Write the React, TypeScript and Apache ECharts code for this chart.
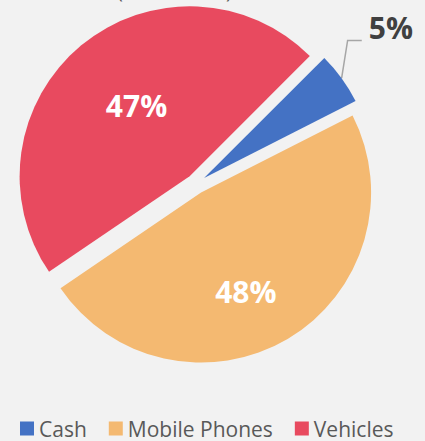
import React, { useEffect, useRef } from "react";
import * as echarts from "echarts";

const categories = ["Cash", "Mobile Phones", "Vehicles"];
const values = [5, 48, 47];
const colors = ["#4472C4", "#F4B971", "#E84A5F"];
const titleText = "(Total Value)";

export default function App() {
  const ref = useRef<HTMLDivElement>(null);
  useEffect(() => {
    document.body.style.margin = "0";
    const chart = echarts.init(ref.current!, null, { renderer: "svg" });
    const insideLabel = {
      show: true,
      position: "inside",
      color: "#FFFFFF",
      fontSize: 30,
      fontWeight: "bold",
      fontFamily: "Open Sans",
    };
    chart.setOption({
      animation: false,
      backgroundColor: "#F2F2F2",
      title: {
        text: titleText,
        left: 112,
        top: -25,
        textStyle: { color: "#595959", fontSize: 20, fontWeight: "normal", fontFamily: "Open Sans" },
      },
      legend: {
        data: categories,
        left: 15,
        top: 413,
        itemWidth: 14,
        itemHeight: 14,
        itemGap: 22,
        icon: "rect",
        selectedMode: false,
        textStyle: { color: "#595959", fontSize: 21, fontFamily: "Open Sans" },
      },
      series: [
        {
          type: "pie",
          center: [196, 184],
          radius: 170,
          startAngle: 45,
          clockwise: true,
          selectedMode: "multiple",
          selectedOffset: 10,
          avoidLabelOverlap: false,
          emphasis: { disabled: true },
          labelLayout: (params: any) => {
            if (params.dataIndex === 0) {
              const dy = -42;
              const r = params.labelRect;
              const p0 = params.labelLinePoints ? params.labelLinePoints[0] : null;
              const ly = r.y + r.height / 2 + dy + 13;
              const lx = r.x - 7;
              return p0
                ? { dy, labelLinePoints: [p0, [p0[0] + 6, ly], [lx, ly]] }
                : { dy };
            }
            if (params.dataIndex === 1) return { dy: 23 };
            return { dx: 3, dy: -3 };
          },
          data: categories.map((c, i) => ({
            name: c,
            value: values[i],
            selected: true,
            itemStyle: { color: colors[i] },
            label:
              i === 0
                ? {
                    show: true,
                    position: "outside",
                    color: "#404040",
                    fontSize: 30,
                    fontWeight: "bold",
                    fontFamily: "Open Sans",
                  }
                : insideLabel,
            labelLine:
              i === 0
                ? { show: true, length: 15, length2: 10, smooth: false, lineStyle: { color: "#A6A6A6", width: 1.5 } }
                : { show: false },
          })),
          label: {
            formatter: (p: any) => p.value + "%",
          },
        },
      ],
    });
    return () => chart.dispose();
  }, []);
  return <div ref={ref} style={{ width: 425, height: 441 }} />;
}
